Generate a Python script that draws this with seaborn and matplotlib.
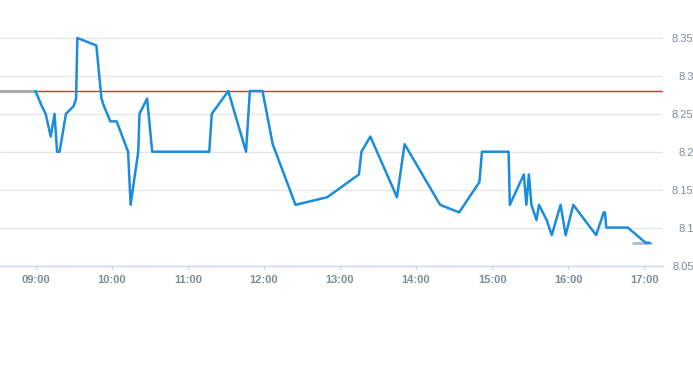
import matplotlib
matplotlib.use("Agg")
import matplotlib.pyplot as plt
import seaborn as sns
import pandas as pd

# ---- data ----
times = ["09:00","09:05","09:08","09:12","09:15","09:17","09:19","09:24","09:30","09:32",
         "09:33","09:48","09:52","09:54","09:59","10:04","10:13","10:15","10:21","10:22",
         "10:28","10:32","11:17","11:19","11:32","11:46","11:49","11:59","12:07","12:25",
         "12:50","13:15","13:17","13:24","13:45","13:51","14:19","14:34","14:50","14:52",
         "15:13","15:14","15:25","15:27","15:29","15:31","15:35","15:37","15:43","15:47",
         "15:54","15:58","16:04","16:22","16:28","16:29","16:30","16:47","17:01","17:04"]
prices = [8.28,8.26,8.25,8.22,8.25,8.20,8.20,8.25,8.26,8.27,
          8.35,8.34,8.27,8.26,8.24,8.24,8.20,8.13,8.20,8.25,
          8.27,8.20,8.20,8.25,8.28,8.20,8.28,8.28,8.21,8.13,
          8.14,8.17,8.20,8.22,8.14,8.21,8.13,8.12,8.16,8.20,
          8.20,8.13,8.17,8.13,8.17,8.13,8.11,8.13,8.11,8.09,
          8.13,8.09,8.13,8.09,8.12,8.12,8.10,8.10,8.08,8.08]
prev_close = 8.28
pre_times = ["08:32", "09:00"]
pre_prices = [8.28, 8.28]
post_times = ["16:51", "17:05"]
post_prices = [8.08, 8.08]
xtick_labels = ["09:00","10:00","11:00","12:00","13:00","14:00","15:00","16:00","17:00"]
ytick_values = [8.05, 8.10, 8.15, 8.20, 8.25, 8.30, 8.35]
ytick_labels = ["8.05", "8.1", "8.15", "8.2", "8.25", "8.3", "8.35"]


def to_hours(ts):
    return [int(t[:2]) + int(t[3:]) / 60.0 for t in ts]


df = pd.DataFrame({"t": to_hours(times), "price": prices})
df_pre = pd.DataFrame({"t": to_hours(pre_times), "price": pre_prices})
df_post = pd.DataFrame({"t": to_hours(post_times), "price": post_prices})

sns.set_theme(style="white")
plt.rcParams["font.family"] = ["Liberation Sans", "DejaVu Sans"]

fig = plt.figure(figsize=(6.93, 3.65), dpi=100)
ax = fig.add_axes([0, (365 - 265.5) / 365, 663 / 693, 265.5 / 365])

ax.axhline(prev_close, color="#d9302a", lw=1.0, zorder=2)
sns.lineplot(data=df_pre, x="t", y="price", ax=ax, color="#a6a6a6", lw=2.0, zorder=3)
sns.lineplot(data=df_post, x="t", y="price", ax=ax, color="#b0bac4", lw=2.0, zorder=3)
sns.lineplot(data=df, x="t", y="price", ax=ax, color="#1a8ddc", lw=1.8, zorder=4,
             estimator=None, sort=False)

ax.set_xlim(9 - 35.5 / 76.1, 9 + 627.5 / 76.1)
ax.set_ylim(8.05, 8.40)

ax.set_xticks(to_hours(xtick_labels))
ax.set_xticklabels(xtick_labels)
ax.set_yticks(ytick_values)
ax.set_yticklabels(ytick_labels)

ax.yaxis.tick_right()
ax.grid(axis="y", color="#e6e6e6", lw=1.0)
ax.grid(axis="x", visible=False)
for s in ["top", "left", "right"]:
    ax.spines[s].set_visible(False)
ax.spines["bottom"].set_color("#ccd6eb")
ax.spines["bottom"].set_linewidth(1.0)

ax.tick_params(axis="x", direction="out", length=3, width=1, color="#ccd6eb",
               labelsize=8, labelcolor="#7f8b99", pad=4, bottom=True)
for lab in ax.get_xticklabels():
    lab.set_fontweight("bold")
ax.tick_params(axis="y", length=0, labelsize=8, labelcolor="#7f8b99", pad=22)
for lab in ax.get_yticklabels():
    lab.set_horizontalalignment("right")

ax.set_xlabel("")
ax.set_ylabel("")

fig.savefig("out.png", dpi=100)
